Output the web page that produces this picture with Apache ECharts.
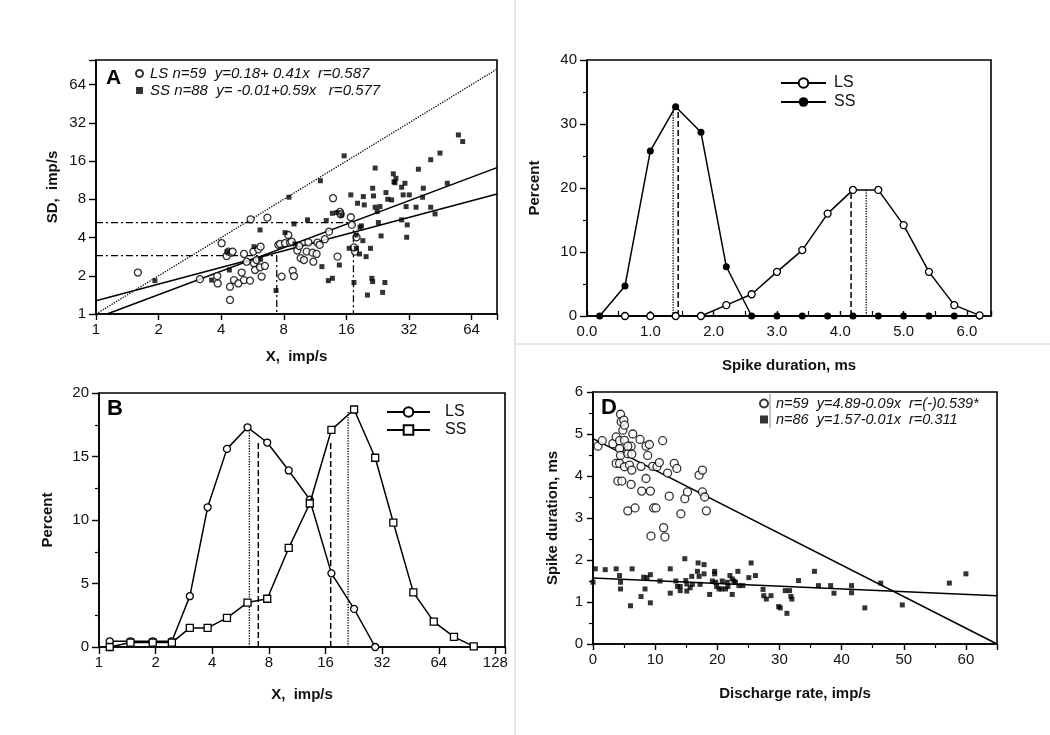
<!DOCTYPE html>
<html><head><meta charset="utf-8">
<script src="https://cdn.jsdelivr.net/npm/echarts@6/dist/echarts.min.js"></script>
<style>html,body{margin:0;padding:0;background:#fff}#c{width:1050px;height:735px}</style>
</head><body><div id="c"></div>
<script>
// ---------- Panel A : SD vs X (log-log) ----------
const aLS = [[1.59,2.12],[3.16,1.88],[3.85,1.74],[3.83,1.99],[4.02,3.61],[4.25,2.86],[4.33,3.10],[4.49,3.04],[4.54,3.10],[4.41,1.64],[4.41,1.29],[4.61,1.85],[4.84,1.74],[5.02,2.12],[5.15,2.97],[5.15,1.85],[5.30,2.58],[5.50,1.83],[5.71,3.10],[5.75,2.51],[5.82,2.22],[5.92,2.66],[6.03,3.23],[6.15,2.33],[6.19,3.39],[6.26,1.97],[6.49,2.39],[5.54,5.57],[6.67,5.74],[7.53,3.50],[7.67,3.56],[7.81,1.97],[8.11,3.61],[8.41,4.19],[8.57,3.65],[8.83,2.19],[8.96,1.99],[8.73,3.72],[9.29,3.16],[9.50,3.43],[9.64,2.75],[10.0,2.66],[10.3,3.10],[10.5,3.67],[11.0,3.04],[11.1,2.58],[11.5,2.97],[11.6,3.65],[11.9,3.50],[12.6,3.88],[13.2,4.45],[13.8,8.16],[14.5,2.83],[14.9,6.36],[15.0,6.10],[16.8,5.78],[17.0,5.03],[17.6,3.10],[17.9,4.02],[17.4,3.35]];
const aSS = [[1.92,1.83],[3.60,1.85],[4.28,3.10],[4.38,2.22],[5.75,3.39],[6.15,4.59],[6.19,2.70],[7.34,1.53],[8.11,4.37],[8.47,8.31],[8.96,5.12],[9.06,3.56],[10.4,5.51],[12.0,11.2],[12.2,2.36],[12.8,5.44],[13.1,1.83],[13.7,1.91],[13.7,6.21],[14.4,6.29],[14.8,2.43],[15.2,6.03],[15.6,17.6],[16.5,3.29],[16.8,8.67],[17.4,1.77],[17.8,4.19],[17.9,3.29],[18.1,7.45],[18.5,2.97],[18.6,4.82],[18.9,4.94],[19.2,3.78],[19.3,8.41],[19.5,7.23],[19.9,2.83],[20.2,1.41],[20.9,3.29],[21.2,1.91],[21.4,1.80],[21.4,9.78],[21.6,8.51],[22.0,14.1],[22.0,6.93],[22.5,6.40],[22.8,5.25],[23.2,7.01],[23.5,4.12],[23.9,1.48],[24.5,1.77],[24.8,9.04],[25.3,8.01],[26.4,7.91],[26.9,12.7],[27.1,11.0],[27.4,10.8],[27.7,11.7],[29.5,9.96],[29.5,5.51],[30.0,8.67],[30.6,10.7],[31.0,7.01],[31.2,4.02],[31.4,5.03],[32.1,8.67],[34.6,6.93],[35.5,13.8],[37.2,8.31],[37.5,9.78],[40.7,6.93],[40.7,16.4],[42.7,6.14],[45.1,18.5],[48.9,10.7],[55.3,25.7],[58.0,22.8]];
const aFitLS = [[1,1.27],[84.8,8.8]];
const aFitSS = [[1.13,1],[84.8,14.2]];
const aIdentity = [[1,1],[84.8,84.8]];
const aGuideHigh = [[1,5.24],[17.3,5.24],[17.3,1]];
const aGuideLow = [[1,2.88],[7.4,2.88],[7.4,1]];
const aTicks = [1,2,4,8,16,32,64];
const aLegend = ['LS n=59  y=0.18+ 0.41x  r=0.587', 'SS n=88  y= -0.01+0.59x   r=0.577'];

// ---------- Panel C : spike duration histogram ----------
const cDurLS = [0.6,1.0,1.4,1.8,2.2,2.6,3.0,3.4,3.8,4.2,4.6,5.0,5.4,5.8,6.2];
const cPctLS = [0,0,0,0,1.7,3.4,6.9,10.3,16.0,19.7,19.7,14.2,6.9,1.7,0.1];
const cDurSS = [0.2,0.6,1.0,1.4,1.8,2.2,2.6,3.0,3.4,3.8,4.2,4.6,5.0,5.4,5.8,6.2];
const cPctSS = [0,4.7,25.8,32.7,28.7,7.7,0,0,0,0,0,0,0,0,0,0];
const cDotted = [[1.36,32.7],[4.41,19.7]];
const cDashed = [[1.44,32.2],[4.17,19.6]];

// ---------- Panel B : X histogram ----------
const bX = [1.14,1.47,1.93,2.44,3.04,3.78,4.79,6.16,7.84,10.2,13.2,17.2,22.7,29.4,36.7,46.9,60.2,77.1,98.2];
const bPctLS = [0.45,0.45,0.45,0.45,4.0,11.0,15.6,17.3,16.1,13.9,11.6,5.8,3.0,0];
const bPctSS = [0,0.35,0.35,0.35,1.5,1.5,2.3,3.5,3.8,7.8,11.3,17.1,18.7,14.9,9.8,4.3,2.0,0.8,0.05];
const bDotted = [[6.3,17.3],[21.1,18.5]];
const bDashed = [[7.03,16.1],[17.05,16.3]];
const bTicks = [1,2,4,8,16,32,64,128];

// ---------- Panel D : spike duration vs discharge rate ----------
const dLS = [[0.8,4.71],[1.49,4.84],[3.2,4.77],[3.73,4.93],[4.27,4.84],[4.43,5.47],[4.53,5.29],[4.96,5.33],[4.8,5.09],[5.07,4.85],[4.27,4.65],[4.43,4.49],[3.73,4.30],[4.27,4.30],[5.07,4.22],[5.6,4.61],[6.13,4.71],[5.6,4.53],[6.24,4.52],[5.87,4.26],[6.24,4.14],[4.0,3.88],[4.64,3.88],[6.13,3.80],[5.6,3.17],[6.77,3.24],[6.4,5.0],[7.57,4.87],[8.53,4.71],[9.07,4.75],[8.8,4.49],[7.73,4.23],[8.53,3.94],[7.84,3.64],[9.23,3.64],[9.6,4.23],[10.29,4.22],[10.67,4.32],[9.76,3.24],[10.13,3.24],[9.33,2.57],[11.2,4.84],[12.0,4.07],[13.07,4.30],[13.49,4.18],[12.27,3.52],[11.36,2.77],[11.57,2.55],[14.13,3.10],[14.77,3.46],[15.2,3.62],[17.07,4.02],[17.6,4.14],[17.6,3.62],[17.97,3.50],[18.24,3.17],[5.07,5.21],[5.6,4.71]];
const dSS = [[0,1.47],[0.37,1.79],[1.97,1.77],[3.73,1.79],[4.27,1.63],[4.43,1.47],[4.43,1.31],[6.03,0.91],[6.29,1.79],[7.73,1.13],[8.16,1.59],[8.37,1.31],[8.69,1.58],[9.23,1.65],[9.23,0.98],[10.77,1.50],[12.43,1.79],[12.43,1.21],[13.33,1.50],[13.6,1.37],[14.03,1.27],[14.03,1.37],[14.77,2.03],[14.93,1.51],[15.09,1.43],[15.09,1.26],[15.63,1.34],[15.89,1.61],[16.0,1.42],[16.8,1.73],[16.91,1.93],[17.07,1.61],[17.23,1.42],[17.87,1.89],[17.87,1.67],[18.77,1.18],[19.2,1.50],[19.57,1.73],[19.57,1.67],[19.73,1.47],[19.89,1.37],[20.27,1.31],[20.69,1.31],[20.8,1.50],[21.33,1.31],[21.6,1.47],[21.71,1.37],[22.03,1.63],[22.4,1.18],[22.4,1.55],[22.67,1.50],[22.93,1.47],[23.31,1.73],[23.47,1.39],[24.11,1.39],[25.07,1.58],[25.44,1.93],[26.13,1.63],[27.36,1.30],[27.47,1.15],[27.89,1.07],[28.64,1.15],[29.87,0.89],[30.13,0.86],[30.93,1.27],[31.2,0.73],[31.63,1.27],[31.84,1.13],[32.0,1.07],[33.07,1.51],[35.63,1.73],[36.27,1.39],[38.24,1.39],[38.77,1.21],[41.6,1.39],[41.6,1.22],[43.73,0.86],[46.29,1.45],[49.76,0.93],[57.33,1.45],[60.0,1.67]];
const dFitLS = [[0,4.89],[65,0]];
const dFitSS = [[0,1.57],[65,1.15]];
const dLegend = ['n=59  y=4.89-0.09x  r=(-)0.539*', 'n=86  y=1.57-0.01x  r=0.311'];

// ---------- helpers ----------
const FONT = 'Liberation Sans, Arial, Helvetica, sans-serif';
const ink = '#111';
const zip = (xs, ys) => ys.map((y, i) => [xs[i], y]);
const vlines = (pairs) => { const out = []; pairs.forEach(p => { out.push([p[0], 0], [p[0], p[1]], null); }); return out; };
const pow2Label = (ticks) => (v) => { for (const t of ticks) { if (Math.abs(v - t) < 1e-6 * t) return String(t); } return ''; };
const lab = (extra) => Object.assign({ color: ink, fontSize: 15, fontFamily: FONT, margin: 8 }, extra || {});
const nameStyle = { color: ink, fontSize: 15, fontWeight: 'bold', fontFamily: FONT };
const axLine = { show: true, lineStyle: { color: '#000', width: 1.6 } };
const tickOut = (len) => ({ show: true, inside: false, length: len, lineStyle: { color: '#000', width: 1.4 } });
const tickIn = (len) => ({ show: true, inside: true, length: len, lineStyle: { color: '#000', width: 1.4 } });
const lineS = (data, xi, type, width) => ({
  type: 'line', data: data, xAxisIndex: xi, yAxisIndex: xi, showSymbol: false, symbol: 'none',
  connectNulls: false, silent: true, animation: false,
  lineStyle: { color: '#000', width: width || 1.4, type: type || 'solid' }, z: 2
});

const grids = [
  { left: 96, top: 60, width: 401, height: 254 },   // A
  { left: 587, top: 60, width: 404, height: 256 },  // C
  { left: 99, top: 393, width: 406, height: 254 },  // B
  { left: 593, top: 392, width: 404, height: 252 }  // D
].map(g => Object.assign(g, { show: true, borderColor: '#000', borderWidth: 1.6, backgroundColor: 'transparent' }));

const minor = (len) => ({ show: true, splitNumber: 2, length: len, lineStyle: { color: '#000', width: 1.2 } });
const xAxes = [
  { gridIndex: 0, type: 'log', logBase: 2, min: 1, max: 84.8, name: 'X,  imp/s', nameLocation: 'middle', nameGap: 35, nameTextStyle: nameStyle,
    axisLine: axLine, axisTick: tickOut(6), splitLine: { show: false }, axisLabel: lab({ formatter: pow2Label(aTicks) }) },
  { gridIndex: 1, type: 'value', min: 0, max: 6.38, interval: 1, name: 'Spike duration, ms', nameLocation: 'middle', nameGap: 42, nameTextStyle: nameStyle,
    axisLine: axLine, axisTick: tickIn(5), minorTick: minor(5), splitLine: { show: false },
    axisLabel: lab({ formatter: v => (Math.abs(v - Math.round(v)) < 1e-6 ? v.toFixed(1) : '') }) },
  { gridIndex: 2, type: 'log', logBase: 2, min: 1, max: 144, name: 'X,  imp/s', nameLocation: 'middle', nameGap: 40, nameTextStyle: nameStyle,
    axisLine: axLine, axisTick: tickOut(7), splitLine: { show: false }, axisLabel: lab({ formatter: pow2Label(bTicks) }) },
  { gridIndex: 3, type: 'value', min: 0, max: 65, interval: 10, name: 'Discharge rate, imp/s', nameLocation: 'middle', nameGap: 42, nameTextStyle: nameStyle,
    axisLine: axLine, axisTick: tickOut(6), minorTick: minor(4), splitLine: { show: false },
    axisLabel: lab({ formatter: v => (v % 10 === 0 ? String(v) : '') }) }
];
const yAxes = [
  { gridIndex: 0, type: 'log', logBase: 2, min: 1, max: 100, name: 'SD,  imp/s', nameLocation: 'middle', nameGap: 36, nameTextStyle: nameStyle,
    axisLine: axLine, axisTick: tickOut(7), splitLine: { show: false }, axisLabel: lab({ formatter: pow2Label(aTicks), margin: 10 }) },
  { gridIndex: 1, type: 'value', min: 0, max: 40, interval: 10, name: 'Percent', nameLocation: 'middle', nameGap: 45, nameTextStyle: nameStyle,
    axisLine: axLine, axisTick: tickOut(7), minorTick: minor(4), splitLine: { show: false }, axisLabel: lab({ margin: 10 }) },
  { gridIndex: 2, type: 'value', min: 0, max: 20, interval: 5, name: 'Percent', nameLocation: 'middle', nameGap: 44, nameTextStyle: nameStyle,
    axisLine: axLine, axisTick: tickOut(7), minorTick: minor(4), splitLine: { show: false }, axisLabel: lab({ margin: 10 }) },
  { gridIndex: 3, type: 'value', min: 0, max: 6, interval: 1, name: 'Spike duration, ms', nameLocation: 'middle', nameGap: 33, nameTextStyle: nameStyle,
    axisLine: axLine, axisTick: tickOut(6), minorTick: minor(4), splitLine: { show: false }, axisLabel: lab({ margin: 10 }) }
];

const openSym = { color: '#fff', borderColor: '#000', borderWidth: 1.3 };
const series = [
  // A
  lineS(aIdentity, 0, 'dotted', 1.3),
  lineS(aFitLS, 0, 'solid', 1.5),
  lineS(aFitSS, 0, 'solid', 1.5),
  lineS(aGuideHigh, 0, [7, 3, 2, 3], 1.3),
  lineS(aGuideLow, 0, [7, 3, 2, 3], 1.3),
  { name: 'A|' + aLegend[0], type: 'scatter', data: aLS, xAxisIndex: 0, yAxisIndex: 0, symbol: 'circle', symbolSize: 7, itemStyle: openSym, z: 4, animation: false },
  { name: 'A|' + aLegend[1], type: 'scatter', data: aSS, xAxisIndex: 0, yAxisIndex: 0, symbol: 'rect', symbolSize: 5, itemStyle: { color: '#000' }, z: 5, animation: false },
  // C
  lineS(vlines(cDotted), 1, 'dotted', 1.3),
  lineS(vlines(cDashed), 1, [6, 3], 1.5),
  { name: 'C|SS', type: 'line', data: zip(cDurSS, cPctSS), xAxisIndex: 1, yAxisIndex: 1, symbol: 'circle', symbolSize: 7, showAllSymbol: true,
    itemStyle: { color: '#000' }, lineStyle: { color: '#000', width: 1.5 }, z: 3, animation: false },
  { name: 'C|LS', type: 'line', data: zip(cDurLS, cPctLS), xAxisIndex: 1, yAxisIndex: 1, symbol: 'circle', symbolSize: 7, showAllSymbol: true,
    itemStyle: openSym, lineStyle: { color: '#000', width: 1.5 }, z: 4, animation: false },
  // B
  lineS(vlines(bDotted), 2, 'dotted', 1.3),
  lineS(vlines(bDashed), 2, [6, 3], 1.5),
  { name: 'B|LS', type: 'line', data: zip(bX, bPctLS), xAxisIndex: 2, yAxisIndex: 2, symbol: 'circle', symbolSize: 7, showAllSymbol: true,
    itemStyle: openSym, lineStyle: { color: '#000', width: 1.5 }, z: 3, animation: false },
  { name: 'B|SS', type: 'line', data: zip(bX, bPctSS), xAxisIndex: 2, yAxisIndex: 2, symbol: 'rect', symbolSize: 7, showAllSymbol: true,
    itemStyle: openSym, lineStyle: { color: '#000', width: 1.5 }, z: 4, animation: false },
  // D
  lineS(dFitLS, 3, 'solid', 1.5),
  lineS(dFitSS, 3, 'solid', 1.5),
  { name: 'D|' + dLegend[0], type: 'scatter', data: dLS, xAxisIndex: 3, yAxisIndex: 3, symbol: 'circle', symbolSize: 8, itemStyle: openSym, z: 4, animation: false },
  { name: 'D|' + dLegend[1], type: 'scatter', data: dSS, xAxisIndex: 3, yAxisIndex: 3, symbol: 'rect', symbolSize: 5, itemStyle: { color: '#000' }, z: 5, animation: false }
];

const strip = n => n.slice(2);
const legends = [
  { data: aLegend.map(s => 'A|' + s), left: 130, top: 61, orient: 'vertical', itemGap: 2, itemWidth: 7, itemHeight: 7,
    formatter: strip, textStyle: { fontSize: 15, fontStyle: 'italic', fontFamily: FONT, color: ink, padding: [0, 0, 0, 2] }, selectedMode: false },
  { data: ['C|LS', 'C|SS'], left: 775, top: 70, orient: 'vertical', itemGap: 3, itemWidth: 45, itemHeight: 12,
    formatter: strip, textStyle: { fontSize: 16, fontFamily: FONT, color: ink, padding: [0, 0, 0, 3] }, selectedMode: false },
  { data: ['B|LS', 'B|SS'], left: 381, top: 399, orient: 'vertical', itemGap: 2, itemWidth: 43, itemHeight: 12,
    formatter: strip, textStyle: { fontSize: 16, fontFamily: FONT, color: ink, padding: [0, 0, 0, 10] }, selectedMode: false },
  { data: dLegend.map(s => 'D|' + s), left: 754, top: 391, orient: 'vertical', itemGap: 1, itemWidth: 8, itemHeight: 8,
    formatter: strip, textStyle: { fontSize: 14.5, fontStyle: 'italic', fontFamily: FONT, color: ink, padding: [0, 0, 0, 3] }, selectedMode: false }
];

const chart = echarts.init(document.getElementById('c'), null, { renderer: 'canvas' });
chart.setOption({
  backgroundColor: '#fff',
  animation: false,
  grid: grids, xAxis: xAxes, yAxis: yAxes, series: series, legend: legends,
  graphic: [
    { type: 'line', shape: { x1: 515, y1: 0, x2: 515, y2: 735 }, style: { stroke: '#c8c8c8', lineWidth: 1 }, silent: true, z: -1 },
    { type: 'line', shape: { x1: 515, y1: 344, x2: 1050, y2: 344 }, style: { stroke: '#d4d4d4', lineWidth: 1 }, silent: true, z: -1 },
    { type: 'text', left: 106, top: 68, style: { text: 'A', font: 'bold 21px ' + FONT, fill: '#000' } },
    { type: 'text', left: 107, top: 398, style: { text: 'B', font: 'bold 22px ' + FONT, fill: '#000' } },
    { type: 'text', left: 601, top: 397, style: { text: 'D', font: 'bold 22px ' + FONT, fill: '#000' } },
    { type: 'line', shape: { x1: 770, y1: 394, x2: 770, y2: 428 }, style: { stroke: '#888', lineWidth: 1 }, silent: true }
  ]
});
</script></body></html>
